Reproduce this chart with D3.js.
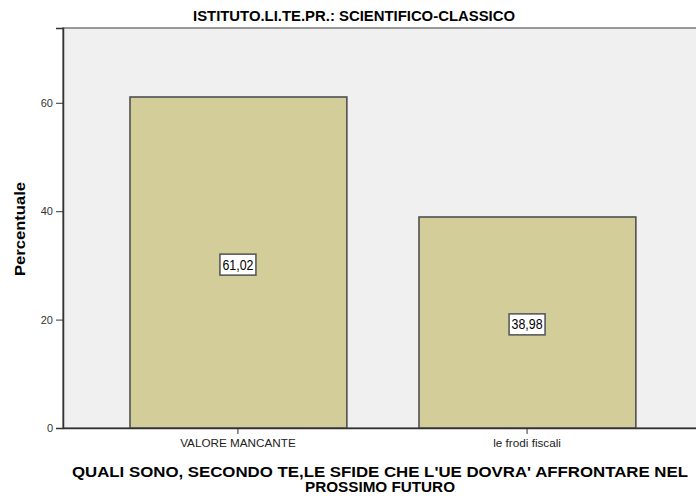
<!DOCTYPE html>
<html><head><meta charset="utf-8">
<script src="https://cdn.jsdelivr.net/npm/d3@7"></script>
<style>body{margin:0;background:#fff;}svg{display:block;}</style>
</head><body>
<svg id="c" width="696" height="501"></svg>
<script>
const categories = ["VALORE MANCANTE", "le frodi fiscali"];
const values = [61.02, 38.98];
const valueLabels = ["61,02", "38,98"];
const yTicks = [0, 20, 40, 60];
const title = "ISTITUTO.LI.TE.PR.: SCIENTIFICO-CLASSICO";
const xTitle = ["QUALI SONO, SECONDO TE,LE SFIDE CHE L'UE DOVRA' AFFRONTARE NEL", "PROSSIMO FUTURO"];
const yTitle = "Percentuale";

const FONT = "Liberation Sans, Arial, sans-serif";
const svg = d3.select("#c");
const L = 63, R = 702, T = 28, B = 428;
const x = d3.scaleBand().domain(categories).range([L, R]).paddingInner(0.25).paddingOuter(0.23);
const y = d3.scaleLinear().domain([0, 73.8]).range([B, T]);

function stretch(sel, f) {
  sel.each(function () {
    const w = this.getComputedTextLength();
    d3.select(this).attr("textLength", w * f).attr("lengthAdjust", "spacingAndGlyphs");
  });
}

svg.append("rect").attr("x", L).attr("y", T).attr("width", R - L).attr("height", B - T)
  .attr("fill", "#f0f0f0").attr("stroke", "#7a7a7a").attr("stroke-width", 1.5);

svg.selectAll("rect.bar").data(values).join("rect").attr("class", "bar")
  .attr("x", (d, i) => Math.round(x(categories[i])))
  .attr("y", d => Math.round(y(d)))
  .attr("width", x.bandwidth())
  .attr("height", d => B - Math.round(y(d)))
  .attr("fill", "#d3ce99").attr("stroke", "#505050").attr("stroke-width", 1.6);

// value labels
values.forEach((v, i) => {
  const cx = x(categories[i]) + x.bandwidth() / 2;
  const cy = y(v / 2) + 2;
  const g = svg.append("g");
  g.append("rect").attr("x", cx - 18).attr("y", cy - 10.5).attr("width", 36).attr("height", 21)
    .attr("fill", "#fff").attr("stroke", "#5a5a5a").attr("stroke-width", 1.6);
  g.append("text").attr("x", cx).attr("y", cy + 5).attr("text-anchor", "middle")
    .attr("font-family", FONT).attr("font-size", 14).attr("fill", "#000")
    .attr("textLength", 31).attr("lengthAdjust", "spacingAndGlyphs").text(valueLabels[i]);
});

// y axis
const ya = svg.append("g").attr("transform", `translate(${L},0)`)
  .call(d3.axisLeft(y).tickValues(yTicks).tickSize(7).tickPadding(3).tickFormat(d3.format("d")));
ya.select(".domain").attr("stroke", "#333").attr("stroke-width", 1.5);
ya.selectAll(".tick line").attr("stroke", "#333");
ya.selectAll("text").attr("font-family", FONT).attr("font-size", 11).attr("fill", "#333");

// x axis
const xa = svg.append("g").attr("transform", `translate(0,${B})`)
  .call(d3.axisBottom(x).tickSize(6).tickPadding(3).tickSizeOuter(0));
xa.select(".domain").attr("stroke", "#333").attr("stroke-width", 1.5);
xa.selectAll(".tick line").attr("stroke", "#333");
xa.selectAll("text").attr("font-family", FONT).attr("font-size", 10).attr("fill", "#222")
  .attr("dy", null).attr("y", 19);
stretch(xa.selectAll("text"), 1.17);

// titles
svg.append("text").attr("x", 354).attr("y", 20.5).attr("text-anchor", "middle")
  .attr("font-family", FONT).attr("font-weight", "bold")
  .attr("font-size", 14).attr("fill", "#000")
  .attr("textLength", 322).attr("lengthAdjust", "spacingAndGlyphs").text(title);

const xtLens = [616, 150];
xTitle.forEach((s, i) => {
  svg.append("text").attr("x", 380).attr("y", 477 + i * 15).attr("text-anchor", "middle")
    .attr("font-family", FONT).attr("font-weight", "bold")
    .attr("font-size", 14).attr("fill", "#000")
    .attr("textLength", xtLens[i]).attr("lengthAdjust", "spacingAndGlyphs").text(s);
});

svg.append("text").attr("transform", `translate(25,229) rotate(-90)`).attr("text-anchor", "middle")
  .attr("font-family", FONT).attr("font-weight", "bold")
  .attr("font-size", 14).attr("fill", "#000")
  .attr("textLength", 94).attr("lengthAdjust", "spacingAndGlyphs").text(yTitle);
</script>
</body></html>
